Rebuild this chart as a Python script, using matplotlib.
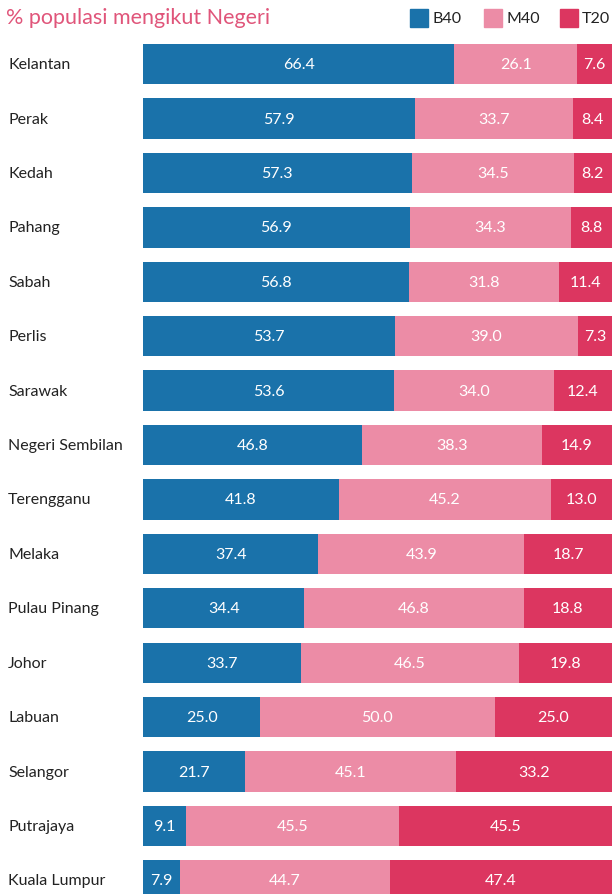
import matplotlib.pyplot as plt

plt.rcParams['font.family'] = ['Lato', 'DejaVu Sans']

negeri = ["Kelantan", "Perak", "Kedah", "Pahang", "Sabah", "Perlis", "Sarawak",
          "Negeri Sembilan", "Terengganu", "Melaka", "Pulau Pinang", "Johor",
          "Labuan", "Selangor", "Putrajaya", "Kuala Lumpur"]
b40 = [66.4, 57.9, 57.3, 56.9, 56.8, 53.7, 53.6, 46.8, 41.8, 37.4, 34.4, 33.7, 25.0, 21.7, 9.1, 7.9]
m40 = [26.1, 33.7, 34.5, 34.3, 31.8, 39.0, 34.0, 38.3, 45.2, 43.9, 46.8, 46.5, 50.0, 45.1, 45.5, 44.7]
t20 = [7.6, 8.4, 8.2, 8.8, 11.4, 7.3, 12.4, 14.9, 13.0, 18.7, 18.8, 19.8, 25.0, 33.2, 45.5, 47.4]

kumpulan = ["B40", "M40", "T20"]
warna = ["#1a72aa", "#ec8ca6", "#dc3660"]

W, H = 614, 895
fig = plt.figure(figsize=(W / 100, H / 100), dpi=100)
ax = fig.add_axes([143 / W, 0, (612 - 143) / W, (895 - 39) / H])

y = list(range(len(negeri)))
left = [0] * len(negeri)
for nama, vals, c in zip(kumpulan, [b40, m40, t20], warna):
    ax.barh(y, vals, left=left, height=0.74, color=c, label=nama)
    for i, v in enumerate(vals):
        ax.text(left[i] + v / 2, i, f"{v:.1f}", ha="center", va="center",
                color="white", fontsize=11.5)
    left = [a + b for a, b in zip(left, vals)]

ax.set_xlim(0, 100)
ax.set_ylim(15.25, -0.48)
ax.axis("off")

for i, n in enumerate(negeri):
    ax.text(-135 / 469 * 100, i, n, ha="left", va="center", fontsize=11.5, color="#222222")

fig.text(6 / W, 1 - 18 / H, "% populasi mengikut Negeri", color="#e0557a",
         fontsize=15.5, ha="left", va="center")

# legend
for nama, c, x0 in zip(kumpulan, warna, [410, 484, 560]):
    fig.patches.append(plt.Rectangle((x0 / W, 1 - 28 / H), 18 / W, 18 / H,
                                     transform=fig.transFigure, color=c))
    fig.text((x0 + 22) / W, 1 - 19 / H, nama, fontsize=11.5, va="center", color="#222222")

fig.savefig("out.png", dpi=100)
